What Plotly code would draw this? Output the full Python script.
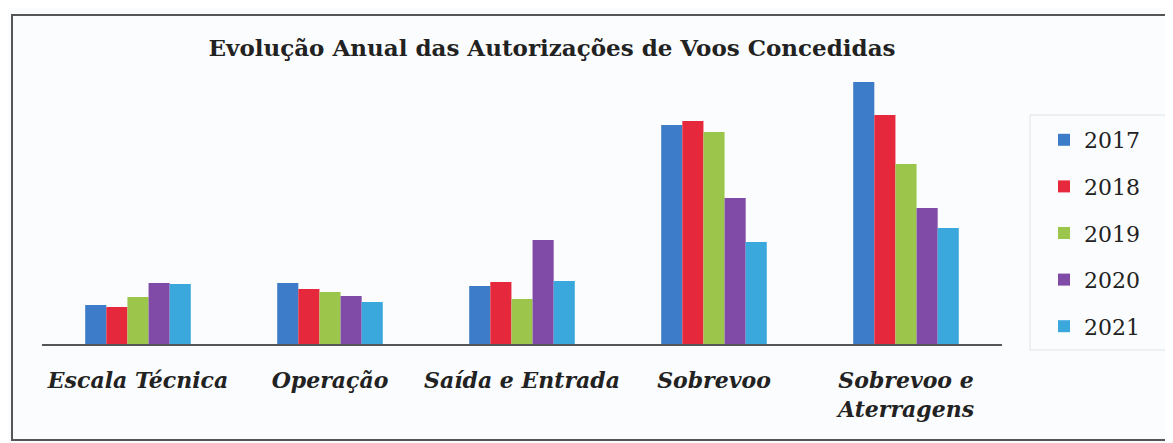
import plotly.graph_objects as go

categories = ["Escala Técnica", "Operação", "Saída e Entrada", "Sobrevoo", "Sobrevoo e<br>Aterragens"]
years = ["2017", "2018", "2019", "2020", "2021"]
v2017 = [39, 61, 58, 219, 262]
v2018 = [37, 55, 62, 223, 229]
v2019 = [47, 52, 45, 212, 180]
v2020 = [61, 48, 104, 146, 136]
v2021 = [60, 42, 63, 102, 116]
series = [v2017, v2018, v2019, v2020, v2021]
colors = ["#3d7cc9", "#e5283b", "#9bc54b", "#7f4ba6", "#3aa8dd"]

OFF = 8  # default page body margin
W, H = 1173 - OFF, 443 - OFF
# plot area in window pixels: x 42..1002, y 60..344
ml = 42 - OFF
mt = 60 - OFF
pw, ph = 960, 284
mr = W - ml - pw
mb = H - mt - ph

def px_x(p):
    return (p - OFF - ml) / pw

def px_y(p):
    return (mt + ph - (p - OFF)) / ph

fig = go.Figure()
for i, (yr, vals) in enumerate(zip(years, series)):
    fig.add_trace(go.Bar(
        x=categories, y=vals, name=yr,
        marker=dict(color=colors[i], line=dict(width=0)),
        legendgroup=yr,
    ))

fig.update_layout(
    width=W, height=H,
    margin=dict(l=ml, r=mr, t=mt, b=mb, autoexpand=False),
    paper_bgcolor="#fbfcfd",
    plot_bgcolor="#fbfcfd",
    barmode="group",
    bargap=0.45,
    bargroupgap=0,
    showlegend=True,
    legend=dict(
        x=px_x(1044), y=px_y(119), xanchor="left", yanchor="top",
        font=dict(family="DejaVu Serif", size=22, color="#222"),
        borderwidth=0,
        bgcolor="rgba(0,0,0,0)",
        tracegroupgap=15,
        itemclick=False,
    ),
    title=dict(
        text="<b>Evolução Anual das Autorizações de Voos Concedidas</b>",
        xref="container", x=(552 - OFF) / W, xanchor="center",
        y=1 - (48 - OFF) / H, yanchor="middle",
        font=dict(family="DejaVu Serif", size=23, color="#222"),
    ),
    xaxis=dict(
        showline=True, linecolor="#555", linewidth=2,
        showgrid=False, zeroline=False,
        ticks="", tickfont=dict(family="DejaVu Serif", size=22, color="#222"),
        ticklabelstandoff=16,
        tickprefix="<b><i>", ticksuffix="</i></b>",
    ),
    yaxis=dict(
        range=[0, 284], visible=False, showgrid=False, zeroline=False,
    ),
    shapes=[
        dict(
            type="rect", xref="paper", yref="paper",
            x0=px_x(12), x1=px_x(1170), y0=px_y(440), y1=px_y(15),
            line=dict(color="#555", width=2), fillcolor="rgba(0,0,0,0)", layer="below",
        ),
        dict(
            type="rect", xref="paper", yref="paper",
            x0=px_x(1030), x1=px_x(1167), y0=px_y(350), y1=px_y(115),
            line=dict(color="#dce3ea", width=1), fillcolor="rgba(0,0,0,0)", layer="below",
        ),
    ],
)

fig.write_html("out.html")
